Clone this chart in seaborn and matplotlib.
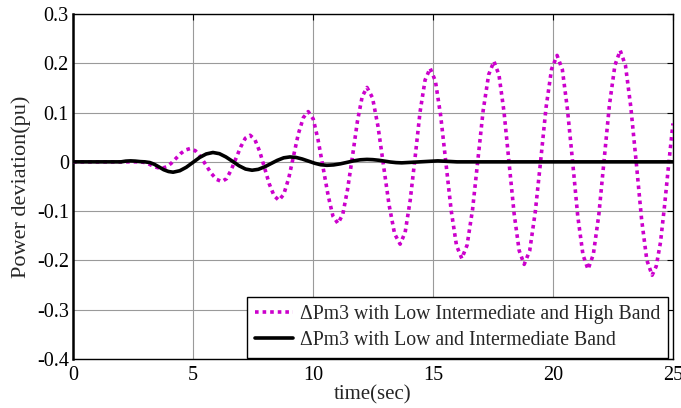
import matplotlib
matplotlib.use("Agg")
import matplotlib.pyplot as plt
import seaborn as sns
import pandas as pd

# ---- data ----
t_high = [0.0, 1.0, 2.0, 2.8, 2.95, 3.1, 3.25, 3.4, 3.55,
          3.70, 3.90, 4.09, 4.29, 4.49, 4.68,
          4.88, 5.10, 5.32, 5.54, 5.76, 5.98,
          6.20, 6.40, 6.59, 6.79, 6.99, 7.18,
          7.38, 7.58, 7.78, 7.98, 8.18, 8.38,
          8.58, 8.78, 8.99, 9.19, 9.39, 9.60,
          9.80, 10.01, 10.21, 10.42, 10.63, 10.83,
          11.04, 11.24, 11.44, 11.65, 11.85, 12.05,
          12.25, 12.48, 12.71, 12.94, 13.17, 13.40,
          13.63, 13.84, 14.05, 14.26, 14.46, 14.67,
          14.88, 15.10, 15.32, 15.54, 15.76, 15.98,
          16.20, 16.42, 16.65, 16.87, 17.09, 17.32,
          17.54, 17.75, 17.96, 18.17, 18.38, 18.59,
          18.80, 19.03, 19.26, 19.49, 19.71, 19.94,
          20.17, 20.39, 20.60, 20.82, 21.03, 21.25,
          21.46, 21.68, 21.91, 22.13, 22.35, 22.58,
          22.80, 23.02, 23.24, 23.47, 23.69, 23.91,
          24.13, 24.30, 24.48, 24.65, 24.83, 25.0]
p_high = [0.0, 0.0, 0.0, 0.0, -0.001, -0.003, -0.0065, -0.010, -0.012,
          -0.013, -0.010, -0.003, 0.007, 0.017, 0.024,
          0.027, 0.0225, 0.010, -0.0065, -0.0233, -0.0355,
          -0.040, -0.034, -0.0165, 0.007, 0.0305, 0.048,
          0.054, 0.045, 0.021, -0.012, -0.045, -0.069,
          -0.078, -0.066, -0.033, 0.012, 0.057, 0.090,
          0.102, 0.087, 0.045, -0.0115, -0.068, -0.110,
          -0.125, -0.1065, -0.056, 0.013, 0.082, 0.1325,
          0.151, 0.130, 0.0715, -0.008, -0.0875, -0.146,
          -0.167, -0.143, -0.078, 0.0115, 0.101, 0.166,
          0.190, 0.164, 0.0935, -0.003, -0.0995, -0.170,
          -0.196, -0.169, -0.096, 0.004, 0.104, 0.177,
          0.204, 0.176, 0.101, -0.002, -0.105, -0.180,
          -0.208, -0.180, -0.102, 0.004, 0.110, 0.188,
          0.216, 0.187, 0.1075, -0.001, -0.1095, -0.189,
          -0.218, -0.188, -0.107, 0.004, 0.115, 0.196,
          0.226, 0.1955, 0.112, -0.002, -0.116, -0.1995,
          -0.230, -0.212, -0.163, -0.088, 0.0, 0.078]

t_low = [0.0, 1.0, 2.0, 2.2, 2.4, 2.6, 2.8, 3.00,
         3.20, 3.39, 3.59, 3.78, 3.98,
         4.17, 4.45, 4.72, 5.00, 5.28, 5.55,
         5.83, 6.10, 6.37, 6.65, 6.92, 7.19,
         7.46, 7.72, 7.99, 8.25, 8.51, 8.78,
         9.04, 9.30, 9.55, 9.81, 10.07, 10.32,
         10.58, 10.86, 11.14, 11.42, 11.69, 11.97,
         12.25, 12.49, 12.73, 12.98, 13.22, 13.46,
         13.70, 14.45, 15.20, 16.00, 17.0, 20.0, 25.0]
p_low = [0.0, 0.0, 0.0, 0.0015, 0.002, 0.0015, 0.0005, 0.0,
         -0.0014, -0.005, -0.0105, -0.016, -0.0196,
         -0.021, -0.018, -0.011, -0.001, 0.009, 0.016,
         0.019, 0.0166, 0.010, 0.001, -0.008, -0.0146,
         -0.017, -0.0152, -0.010, -0.0035, 0.003, 0.0082,
         0.010, 0.0089, 0.0058, 0.0015, -0.0028, -0.0059,
         -0.007, -0.0062, -0.004, -0.001, 0.002, 0.0042,
         0.005, 0.0045, 0.0033, 0.0015, -0.0003, -0.0015,
         -0.002, 0.0, 0.002, 0.0, 0.0, 0.0, 0.0]

label_high = "\u0394Pm3 with Low Intermediate and High Band"
label_low = "\u0394Pm3 with Low and Intermediate Band"
x_ticks = [0, 5, 10, 15, 20, 25]
y_ticks = [-0.4, -0.3, -0.2, -0.1, 0, 0.1, 0.2, 0.3]
y_ticklabels = ["-0.4", "-0.3", "-0.2", "-0.1", "0", "0.1", "0.2", "0.3"]

df_high = pd.DataFrame({"t": t_high, "p": p_high})
df_low = pd.DataFrame({"t": t_low, "p": p_low})

sns.set_style("white")
plt.rcParams["font.family"] = ["Liberation Serif", "DejaVu Serif"]

fig = plt.figure(figsize=(6.81, 4.08), dpi=100)
ax = fig.add_axes([73 / 681, 49 / 408, 600 / 681, 345 / 408])

sns.lineplot(data=df_high, x="t", y="p", ax=ax, color="#CC00CC",
             linewidth=2.6, label=label_high, zorder=3)
ax.lines[-1].set_dashes([1.0, 1.1])
ax.lines[-1].set_dash_capstyle("butt")
sns.lineplot(data=df_low, x="t", y="p", ax=ax, color="black",
             linewidth=2.6, label=label_low, zorder=4)

ax.set_xlim(0, 25)
ax.set_ylim(-0.4, 0.3)
ax.set_xticks(x_ticks)
ax.set_xticklabels([str(v) for v in x_ticks])
ax.set_yticks(y_ticks)
ax.set_yticklabels(y_ticklabels)
ax.grid(True, color="#9a9a9a", linewidth=0.8, linestyle="-")
ax.set_axisbelow(True)
ax.tick_params(direction="in", length=4, width=0.8, labelsize=14.5,
               top=True, right=True, colors="black")
ax.tick_params(axis="x", pad=5)
ax.tick_params(axis="y", pad=3)
for side, sp in ax.spines.items():
    sp.set_visible(True)
    sp.set_color("black")
    sp.set_linewidth(1.0)
ax.spines["left"].set_linewidth(1.8)

ax.set_xlabel("time(sec)", fontsize=15, labelpad=0)
ax.set_ylabel("Power deviation(pu)", fontsize=16, labelpad=4)

leg = ax.legend(loc="lower right", bbox_to_anchor=(0.992, 0.003),
                borderaxespad=0, fontsize=14.2, frameon=True, fancybox=False,
                edgecolor="black", framealpha=1, handlelength=1.9,
                handletextpad=0.35, borderpad=0.42, labelspacing=0.33)
leg.get_frame().set_linewidth(1.0)

fig.savefig("out.png", dpi=100)
